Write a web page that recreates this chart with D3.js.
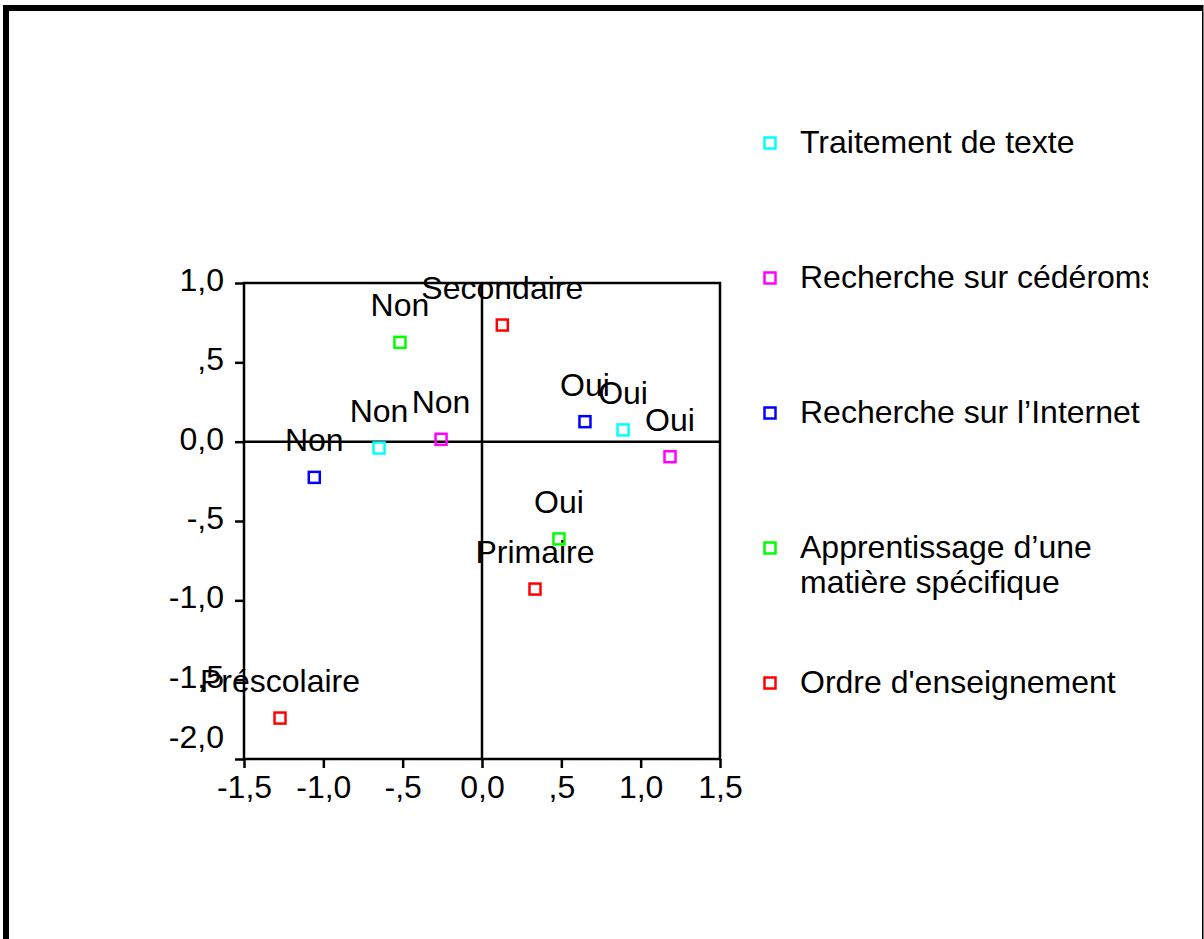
<!DOCTYPE html>
<html>
<head>
<meta charset="utf-8">
<script src="https://cdn.jsdelivr.net/npm/d3@7"></script>
<style>
  body { margin: 0; background: #fff; }
  text { font-family: Arial, "Liberation Sans", sans-serif; fill: #000; }
</style>
</head>
<body>
<div id="chart"></div>
<script>
// series (legend order) and their colours
var seriesNames = ["Traitement de texte", "Recherche sur cédéroms", "Recherche sur l’Internet", "Apprentissage d’une matière spécifique", "Ordre d'enseignement"]
var seriesLines = [["Traitement de texte"], ["Recherche sur cédéroms"], ["Recherche sur l’Internet"], ["Apprentissage d’une", "matière spécifique"], ["Ordre d'enseignement"]]
var seriesColors = ["#00ffff", "#ff00ff", "#0000ff", "#00ff00", "#ff0000"]

// category points: which series, label, dimension 1, dimension 2
var pointSeries = [0, 0, 1, 1, 2, 2, 3, 3, 4, 4, 4]
var pointLabels = ["Non", "Oui", "Non", "Oui", "Non", "Oui", "Non", "Oui", "Secondaire", "Primaire", "Préscolaire"]
var dim1 = [-0.649, 0.889, -0.258, 1.185, -1.057, 0.649, -0.517, 0.485, 0.128, 0.334, -1.273]
var dim2 = [-0.040, 0.074, 0.015, -0.095, -0.225, 0.126, 0.626, -0.613, 0.735, -0.929, -1.742]

// tick values
var xTicks = [-1.5, -1, -0.5, 0, 0.5, 1, 1.5]
var yTicks = [1, 0.5, 0, -0.5, -1, -1.5, -2]

var width = 1204,
    height = 939

var plot = {left: 244, right: 720, top: 283, bottom: 759}

var svg = d3.select("#chart")
  .append("svg")
    .attr("width", width)
    .attr("height", height)

svg.append("rect").attr("width", width).attr("height", height).attr("fill", "#fff")

// page frame (thick top/left, thin right)
svg.append("rect").attr("x", 3).attr("y", 5).attr("width", width - 4).attr("height", 6).attr("fill", "#000")
svg.append("rect").attr("x", 3).attr("y", 5).attr("width", 6).attr("height", height).attr("fill", "#000")
svg.append("rect").attr("x", 1202).attr("y", 5).attr("width", 1.5).attr("height", height).attr("fill", "#000")

var x = d3.scaleLinear().domain([-1.5, 1.5]).range([plot.left, plot.right])
var y = d3.scaleLinear().domain([-2, 1]).range([plot.bottom, plot.top])

// numbers like SPSS: comma decimal, no leading zero
function fmt(v) {
  var s = Math.abs(v).toFixed(1).replace(".", ",")
  if (Math.abs(v) < 1 && v !== 0) s = s.slice(1)
  return (v < 0 ? "-" : "") + s
}

var fontSize = 32
var lw = 2.5

var xAxis = svg.append("g")
  .attr("transform", "translate(0," + plot.bottom + ")")
  .call(d3.axisBottom(x).tickValues(xTicks).tickFormat(fmt).tickSize(9).tickPadding(7).tickSizeOuter(0))
var yAxis = svg.append("g")
  .attr("transform", "translate(" + plot.left + ",0)")
  .call(d3.axisLeft(y).tickValues(yTicks).tickFormat(fmt).tickSize(9).tickPadding(11).tickSizeOuter(0))

;[xAxis, yAxis].forEach(function(g) {
  g.select(".domain").remove()
  g.selectAll(".tick line").attr("stroke", "#000").attr("stroke-width", lw)
  g.selectAll(".tick text")
    .style("font-size", fontSize + "px")
    .attr("fill", "#000")
})
yAxis.selectAll(".tick text").attr("dy", "0.23em")
// the lowest label is pushed up off the corner
yAxis.selectAll(".tick text").filter(function(d) { return d === -2 }).attr("dy", "-0.35em")

// plot frame and zero lines
svg.append("rect")
  .attr("x", plot.left).attr("y", plot.top)
  .attr("width", plot.right - plot.left).attr("height", plot.bottom - plot.top)
  .attr("fill", "none").attr("stroke", "#000").attr("stroke-width", lw)
svg.append("line")
  .attr("x1", plot.left).attr("x2", plot.right)
  .attr("y1", y(0)).attr("y2", y(0))
  .attr("stroke", "#000").attr("stroke-width", lw)
svg.append("line")
  .attr("x1", x(0)).attr("x2", x(0))
  .attr("y1", plot.top).attr("y2", plot.bottom)
  .attr("stroke", "#000").attr("stroke-width", lw)

var idx = d3.range(pointLabels.length)

// point labels above the markers
svg.selectAll(".plabel")
  .data(idx)
  .enter()
  .append("text")
    .attr("class", "plabel")
    .attr("x", function(i) { return x(dim1[i]) })
    .attr("y", function(i) { return y(dim2[i]) - 26 })
    .attr("text-anchor", "middle")
    .style("font-size", fontSize + "px")
    .text(function(i) { return pointLabels[i] })

// hollow square markers
var m = 11
svg.selectAll(".marker")
  .data(idx)
  .enter()
  .append("rect")
    .attr("class", "marker")
    .attr("x", function(i) { return x(dim1[i]) - m / 2 })
    .attr("y", function(i) { return y(dim2[i]) - m / 2 })
    .attr("width", m)
    .attr("height", m)
    .attr("fill", "none")
    .attr("stroke", function(i) { return seriesColors[pointSeries[i]] })
    .attr("stroke-width", 2.5)

// legend (clipped on the right like the original)
svg.append("clipPath").attr("id", "legclip")
  .append("rect").attr("x", 740).attr("y", 0).attr("width", 408).attr("height", height)

var rowY = d3.scalePoint().domain(d3.range(seriesNames.length)).range([143, 683])

var legend = svg.append("g").attr("clip-path", "url(#legclip)")
var item = legend.selectAll(".item")
  .data(d3.range(seriesNames.length))
  .enter()
  .append("g")
    .attr("class", "item")
    .attr("transform", function(i) { return "translate(770," + rowY(i) + ")" })

item.append("rect")
  .attr("x", -m / 2).attr("y", -m / 2)
  .attr("width", m).attr("height", m)
  .attr("fill", "none")
  .attr("stroke", function(i) { return seriesColors[i] })
  .attr("stroke-width", 2.5)

item.append("text")
  .attr("x", 30)
  .attr("y", 10)
  .style("font-size", fontSize + "px")
  .selectAll("tspan")
  .data(function(i) { return seriesLines[i] })
  .enter()
  .append("tspan")
    .attr("x", 30)
    .attr("dy", function(d, j) { return j === 0 ? 0 : 35 })
    .text(function(d) { return d })
</script>
</body>
</html>
